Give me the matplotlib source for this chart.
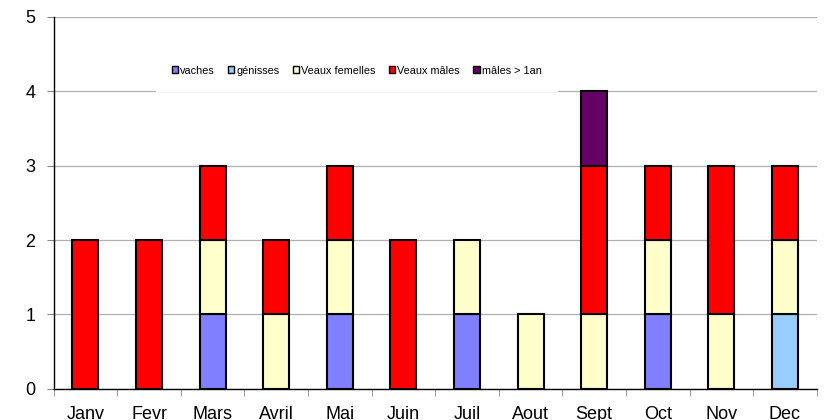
import matplotlib
matplotlib.use("Agg")
import matplotlib.pyplot as plt
from matplotlib.patches import Patch
import numpy as np

plt.rcParams['font.family'] = ['Liberation Sans', 'DejaVu Sans']

months = ["Janv", "Fevr", "Mars", "Avril", "Mai", "Juin", "Juil", "Aout", "Sept", "Oct", "Nov", "Dec"]
vaches = [0, 0, 1, 0, 1, 0, 1, 0, 0, 1, 0, 0]
genisses = [0, 0, 0, 0, 0, 0, 0, 0, 0, 0, 0, 1]
veaux_femelles = [0, 0, 1, 1, 1, 0, 1, 1, 1, 1, 1, 1]
veaux_males = [2, 2, 1, 1, 1, 2, 0, 0, 2, 1, 2, 1]
males_1an = [0, 0, 0, 0, 0, 0, 0, 0, 1, 0, 0, 0]

series = [
    ("vaches", vaches, "#8080FF"),
    ("génisses", genisses, "#99CCFF"),
    ("Veaux femelles", veaux_femelles, "#FFFFCC"),
    ("Veaux mâles", veaux_males, "#FF0000"),
    ("mâles > 1an", males_1an, "#660066"),
]

fig = plt.figure(figsize=(8.25, 4.2), dpi=100)
ax = fig.add_axes([0.065, 0.074, 0.925, 0.886])

x = np.arange(len(months))
bottom = np.zeros(len(months))
for name, vals, col in series:
    v = np.array(vals, dtype=float)
    mask = v > 0
    ax.bar(x[mask], v[mask], bottom=bottom[mask], width=0.41, color=col,
           edgecolor="black", linewidth=1.5, zorder=3)
    bottom += v

ax.set_xlim(-0.5, len(months) - 0.5)
ax.set_ylim(0, 5)
ax.set_yticks(range(6))
ax.yaxis.grid(True, color="#b0b0b0", linewidth=0.9, zorder=0)
ax.set_axisbelow(True)

ax.set_xticks(x)
ax.set_xticklabels(months, fontsize=13)
ax.set_xticks(np.arange(-0.5, len(months)), minor=True)
ax.tick_params(axis="x", which="major", length=0, pad=12)
ax.tick_params(axis="x", which="minor", length=5, color="#888888", direction="out")
ax.tick_params(axis="y", labelsize=13, length=5, color="#888888", pad=8)

for s in ["top", "right"]:
    ax.spines[s].set_visible(False)
ax.spines["left"].set_linewidth(1.0)
ax.spines["bottom"].set_linewidth(1.0)

handles = [Patch(facecolor=col, edgecolor="black", linewidth=1.0) for _, _, col in series]
labels = [name for name, _, _ in series]
leg = ax.legend(handles, labels, loc="center", bbox_to_anchor=(0.397, 0.855), ncol=5,
                fontsize=7.8, frameon=True, fancybox=False, framealpha=1,
                edgecolor="white", facecolor="white", handlelength=0.6,
                handleheight=0.6, handletextpad=0.2, columnspacing=1.2,
                borderpad=1.4)
leg.set_zorder(5)

fig.savefig("out.png", dpi=100)
